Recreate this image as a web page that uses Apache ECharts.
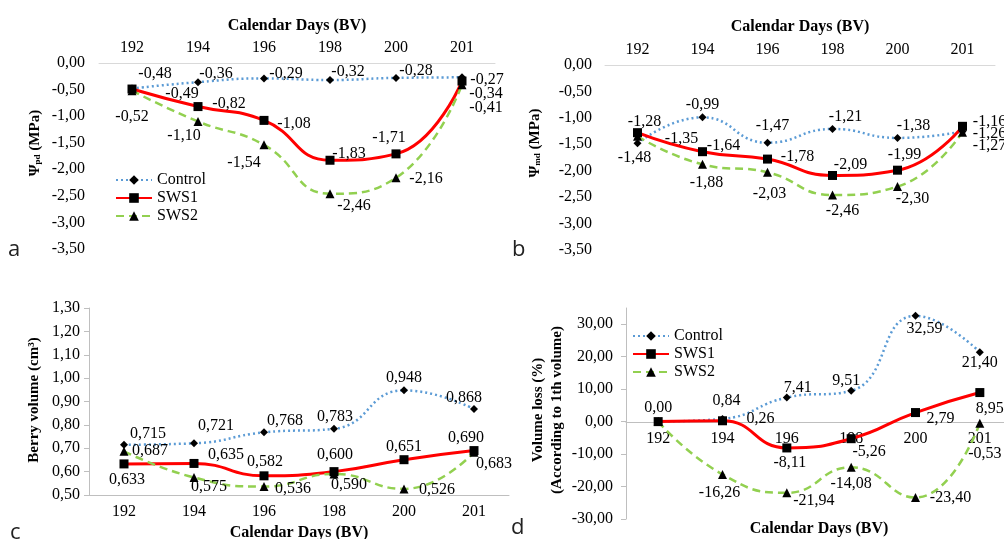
<!DOCTYPE html>
<html>
<head>
<meta charset="utf-8">
<script src="https://cdn.jsdelivr.net/npm/echarts@6/dist/echarts.min.js"></script>
<style>
  html, body { margin: 0; padding: 0; background: #fff; }
  #chart { width: 1004px; height: 539px; }
</style>
</head>
<body>
<div id="chart"></div>
<script>
// ==================== data
const days = ['192', '194', '196', '198', '200', '201'];

// a: pre-dawn leaf water potential (MPa)
const psiPdControl = [-0.48, -0.36, -0.29, -0.32, -0.28, -0.27];
const psiPdSws1 = [-0.49, -0.82, -1.08, -1.83, -1.71, -0.34];
const psiPdSws2 = [-0.52, -1.10, -1.54, -2.46, -2.16, -0.41];

// b: midday leaf water potential (MPa)
const psiMdControl = [-1.48, -0.99, -1.47, -1.21, -1.38, -1.26];
const psiMdSws1 = [-1.28, -1.64, -1.78, -2.09, -1.99, -1.16];
const psiMdSws2 = [-1.35, -1.88, -2.03, -2.46, -2.30, -1.27];

// c: berry volume (cm3)
const berryControl = [0.715, 0.721, 0.768, 0.783, 0.948, 0.868];
const berrySws1 = [0.633, 0.635, 0.582, 0.600, 0.651, 0.690];
const berrySws2 = [0.687, 0.575, 0.536, 0.590, 0.526, 0.683];

// d: volume loss (%)
const lossControl = [0.00, 0.84, 7.41, 9.51, 32.59, 21.40];
const lossSws1 = [0.00, 0.26, -8.11, -5.26, 2.79, 8.95];
const lossSws2 = [0.00, -16.26, -21.94, -14.08, -23.40, -0.53];

// ==================== label offsets (layout only)
const offA = {
  control: [[23, -15], [18, -8], [22, -5], [18, -8], [20, -7], [25, 2]],
  sws1: [[50, 5], [31, -3], [30, 3], [19, -6], [-7, -16], [24, 13]],
  sws2: [[0, 26], [-14, 14], [-20, 18], [24, 12], [30, 1], [24, 23]],
};
const offB = {
  control: [[-3, 15], [0, -13], [5, -17], [13, -12], [16, -12], [27, 2]],
  sws1: [[7, -11], [21, -6], [30, -2], [18, -11], [7, -15], [27, -5]],
  sws2: [[44, 2], [4, 18], [2, 21], [10, 16], [15, 12], [27, 14]],
};
const offC = {
  control: [[24, -11], [22, -18], [21, -12], [1, -12], [0, -12], [-10, -11]],
  sws1: [[3, 16], [32, -9], [1, -14], [1, -17], [0, -13], [-8, -13]],
  sws2: [[26, 0], [15, 9], [29, 2], [15, 11], [33, 1], [20, 12]],
};
const offD = {
  control: [[0, -14], [4, -18], [11, -10], [-5, -10], [9, 13], [0, 11]],
  sws1: [null, [38, -2], [3, 15], [18, 13], [25, 6], [10, 16]],
  sws2: [null, [-3, 18], [27, 8], [0, 16], [35, 0], [5, 30]],
};

const SERIF = 'Liberation Serif';
const comma = (v, d) => Number(v).toFixed(d).replace('.', ',');

const styles = {
  control: {
    name: 'Control',
    symbol: 'diamond',
    symbolSize: 8,
    lineStyle: { color: '#5b9bd5', width: 2.5, type: [2, 3] },
  },
  sws1: {
    name: 'SWS1',
    symbol: 'rect',
    symbolSize: 9,
    lineStyle: { color: '#ff0000', width: 3, type: 'solid' },
  },
  sws2: {
    name: 'SWS2',
    symbol: 'triangle',
    symbolSize: 9,
    lineStyle: { color: '#92d050', width: 2.5, type: [8, 5] },
  },
};

const makeSeries = (key, values, idx, offsets, digits) => {
  const st = styles[key];
  return {
    type: 'line',
    name: st.name,
    xAxisIndex: idx,
    yAxisIndex: idx,
    smooth: 0.5,
    symbol: st.symbol,
    symbolSize: st.symbolSize,
    itemStyle: { color: '#000' },
    lineStyle: st.lineStyle,
    data: values.map((v, i) => {
      const off = offsets[i];
      return {
        value: v,
        label: off ? { show: true, offset: off } : { show: false },
      };
    }),
    label: {
      position: 'inside',
      fontFamily: SERIF,
      fontSize: 16,
      color: '#000',
      formatter: p => comma(p.value, digits),
    },
  };
};

const catAxis = (idx, pos, lineColor, nameGap, margin, offset) => ({
  type: 'category',
  gridIndex: idx,
  position: pos,
  offset: offset || 0,
  data: days,
  boundaryGap: true,
  axisLine: { show: true, onZero: false, lineStyle: { color: lineColor, width: 1 } },
  axisTick: { show: false },
  axisLabel: { margin, fontFamily: SERIF, fontSize: 16, color: '#000' },
  splitLine: { show: false },
  name: 'Calendar Days (BV)',
  nameLocation: 'middle',
  nameGap,
  nameTextStyle: { fontFamily: SERIF, fontSize: 16, fontWeight: 'bold', color: '#000' },
});

const valAxis = (idx, min, max, interval, digits, showLine, margin) => ({
  type: 'value',
  gridIndex: idx,
  min,
  max,
  interval,
  axisLine: { show: showLine, lineStyle: { color: '#bfbfbf' } },
  axisTick: { show: showLine, length: 5, lineStyle: { color: '#bfbfbf' } },
  axisLabel: {
    margin,
    fontFamily: SERIF,
    fontSize: 16,
    color: '#000',
    showMaxLabel: idx !== 3,
    formatter: v => comma(v, digits),
  },
  splitLine: { show: false },
});

const legendBox = (left, top, gap) => ({
  data: ['Control', 'SWS1', 'SWS2'],
  orient: 'vertical',
  left,
  top,
  itemWidth: 36,
  itemHeight: 12,
  itemGap: gap,
  selectedMode: false,
  textStyle: { fontFamily: SERIF, fontSize: 16, color: '#000' },
});

const yName = (x, y, text, rich) => ({
  type: 'text',
  x,
  y,
  rotation: Math.PI / 2,
  style: {
    text,
    rich,
    fontFamily: SERIF,
    fontSize: 15,
    fontWeight: 'bold',
    fill: '#000',
    align: 'center',
    verticalAlign: 'middle',
  },
});

const letter = (x, y, t) => ({
  type: 'text',
  x,
  y,
  style: {
    text: t,
    fontFamily: 'Open Sans',
    fontSize: 22,
    fill: '#222',
    align: 'left',
    verticalAlign: 'middle',
  },
});

const subRich = {
  m: { fontFamily: SERIF, fontSize: 15, fontWeight: 'bold', color: '#000' },
  s: { fontFamily: SERIF, fontSize: 9, fontWeight: 'bold', color: '#000', padding: [6, 0, 0, 0] },
};

const option = {
  animation: false,
  backgroundColor: '#fff',
  textStyle: { fontFamily: SERIF },
  grid: [
    { left: 99, top: 63, width: 396, height: 186, outerBoundsMode: 'none' },
    { left: 605, top: 65, width: 390, height: 185, outerBoundsMode: 'none' },
    { left: 89, top: 308, width: 420, height: 187, outerBoundsMode: 'none' },
    { left: 626, top: 308, width: 386, height: 211, outerBoundsMode: 'none' },
  ],
  xAxis: [
    catAxis(0, 'top', '#d9d9d9', 29, 7),
    catAxis(1, 'top', '#d9d9d9', 30, 7),
    catAxis(2, 'bottom', '#bfbfbf', 30, 9),
    // sits on the value-axis zero line (0 is 35/65 of the way down)
    catAxis(3, 'bottom', '#bfbfbf', 99, 9, -97),
  ],
  yAxis: [
    valAxis(0, -3.5, 0, 0.5, 2, false, 14),
    valAxis(1, -3.5, 0, 0.5, 2, false, 13),
    valAxis(2, 0.5, 1.3, 0.1, 2, true, 9),
    valAxis(3, -30, 35, 10, 2, true, 13),
  ],
  legend: [
    legendBox(110, 167, 2),
    legendBox(627, 323, 2),
  ],
  graphic: [
    yName(35, 143, '{m|Ψ}{s|pd}{m| (MPa)}', subRich),
    yName(535, 143, '{m|Ψ}{s|md}{m| (MPa)}', subRich),
    yName(34, 400, 'Berry volume (cm³)'),
    yName(538, 410, 'Volume loss (%)'),
    yName(557, 410, '(According to 1th volume)'),
    letter(8, 250, 'a'),
    letter(512, 250, 'b'),
    letter(10, 533, 'c'),
    letter(511, 528, 'd'),
  ],
  series: [
    makeSeries('control', psiPdControl, 0, offA.control, 2),
    makeSeries('sws1', psiPdSws1, 0, offA.sws1, 2),
    makeSeries('sws2', psiPdSws2, 0, offA.sws2, 2),
    makeSeries('control', psiMdControl, 1, offB.control, 2),
    makeSeries('sws1', psiMdSws1, 1, offB.sws1, 2),
    makeSeries('sws2', psiMdSws2, 1, offB.sws2, 2),
    makeSeries('control', berryControl, 2, offC.control, 3),
    makeSeries('sws1', berrySws1, 2, offC.sws1, 3),
    makeSeries('sws2', berrySws2, 2, offC.sws2, 3),
    makeSeries('control', lossControl, 3, offD.control, 2),
    makeSeries('sws1', lossSws1, 3, offD.sws1, 2),
    makeSeries('sws2', lossSws2, 3, offD.sws2, 2),
  ],
};

const chart = echarts.init(document.getElementById('chart'), null, { renderer: 'canvas' });
chart.setOption(option);
</script>
</body>
</html>
